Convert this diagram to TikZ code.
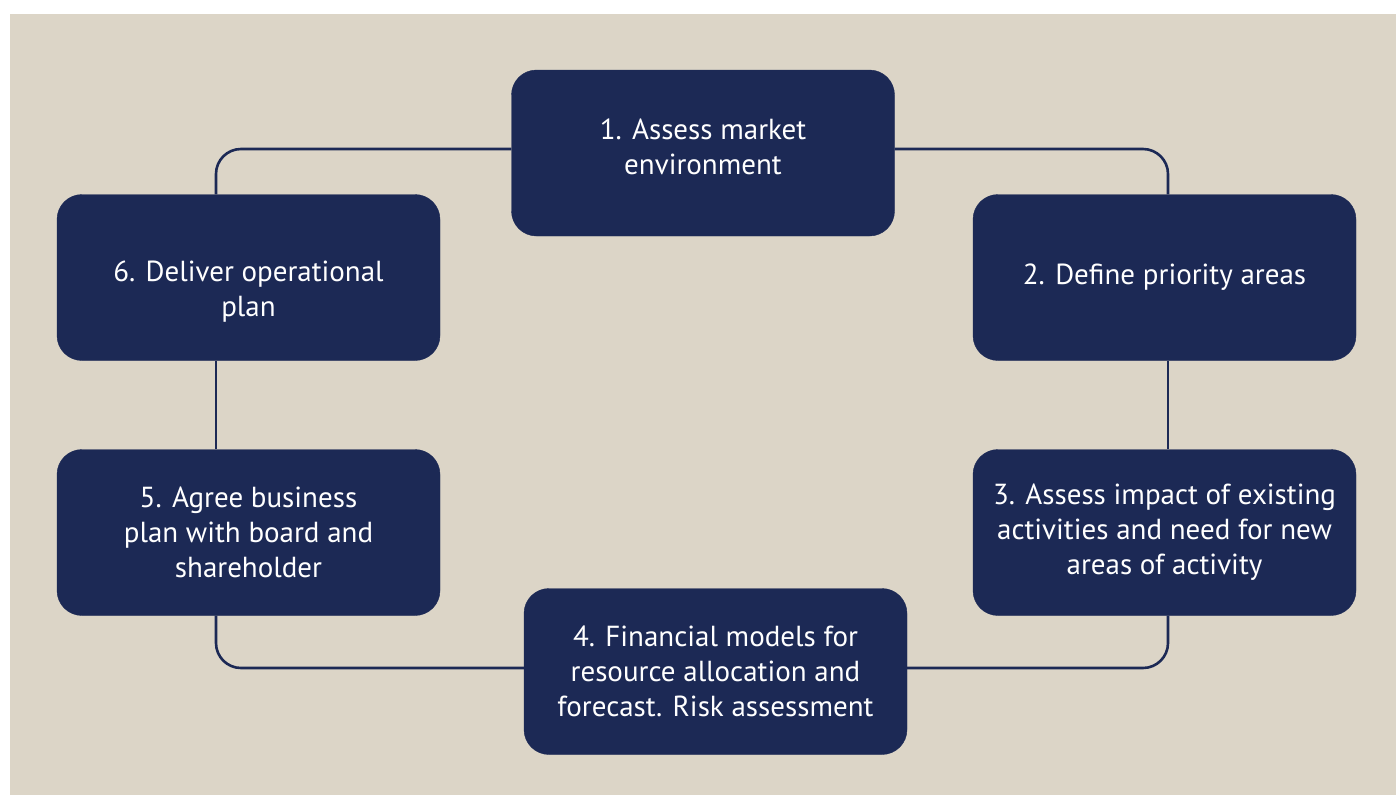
\documentclass[tikz,border=0pt]{standalone}
\usepackage{fontspec}
\setmainfont{PT Sans}
\usetikzlibrary{positioning}
\definecolor{navy}{HTML}{1C2955}
\definecolor{sand}{HTML}{DCD5C7}
\tikzset{
  stage/.style={fill=navy, draw=navy, rounded corners=25pt, minimum width=383pt,
    minimum height=166pt, align=center, text=white, inner sep=0pt,
    font=\fontsize{29}{35}\selectfont},
  link/.style={draw=navy, line width=2.6pt, rounded corners=25pt}
}
\begin{document}
\begin{tikzpicture}[x=1pt, y=1pt]
    % Background
    \fill[white] (0,0) rectangle (1396,-795);
    \fill[sand] (10,-14) rectangle (1396,-795);

    % Corners of the loop
    \coordinate (tl) at (216,-149);
    \coordinate (tr) at (1168,-149);
    \coordinate (bl) at (216,-668);
    \coordinate (br) at (1168,-668);

    % Stages
    \node[stage, text depth=12pt] (assess) at (703,-153) {1. Assess market\\environment};
    \node[stage] (priority) at (1164.5,-277.5) {2. Define priority areas};
    \node[stage] (impact) at (1164.5,-532.5) {3. Assess impact of existing\\activities and need for new\\areas of activity};
    \node[stage] (finance) at (715.5,-671.5) {4. Financial models for\\resource allocation and\\forecast. Risk assessment};
    \node[stage] (agree) at (248.5,-532.5) {5. Agree business\\plan with board and\\shareholder};
    \node[stage, text height=84pt] (deliver) at (248.5,-277.5) {6. Deliver operational\\plan};

    % Connectors
    \draw[link] (assess.west |- tl) -- (tl) -- (deliver.north -| tl);
    \draw[link] (assess.east |- tr) -- (tr) -- (priority.north -| tr);
    \draw[link] (priority.south -| tr) -- (impact.north -| tr);
    \draw[link] (impact.south -| br) -- (br) -- (finance.east |- br);
    \draw[link] (finance.west |- bl) -- (bl) -- (agree.south -| bl);
    \draw[link] (agree.north -| bl) -- (deliver.south -| bl);
\end{tikzpicture}
\end{document}
